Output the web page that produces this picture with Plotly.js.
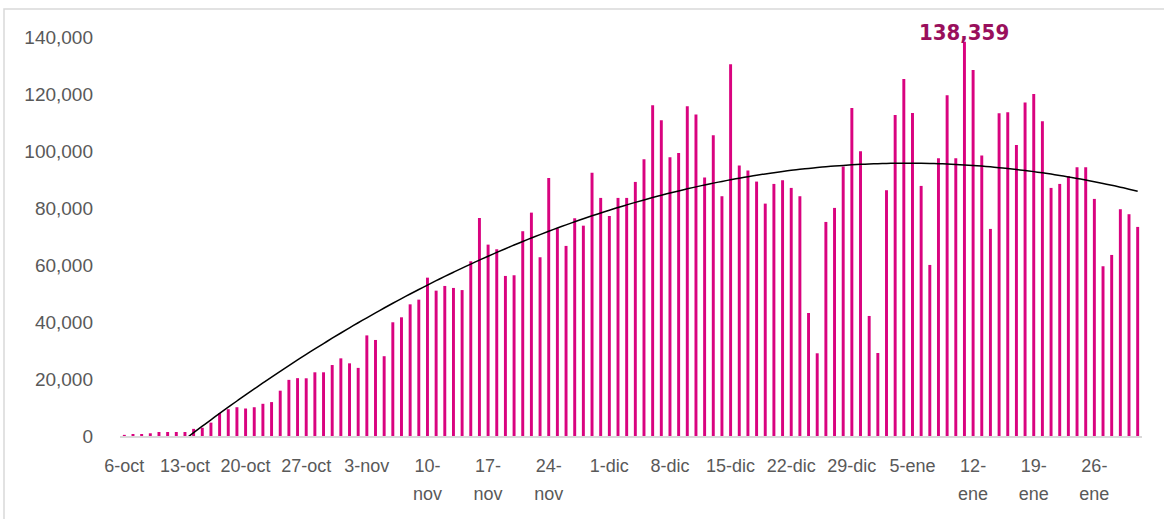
<!DOCTYPE html>
<html>
<head>
<meta charset="utf-8">
<script src="https://cdn.plot.ly/plotly-3.0.1.min.js"></script>
<style>html,body{margin:0;padding:0;background:#fff;}#chart{width:1164px;height:519px;}</style>
</head>
<body>
<div id="chart"></div>
<script>
// Daily categories (6-oct to 31-ene)
const days = [
 "6-oct","7-oct","8-oct","9-oct","10-oct","11-oct","12-oct","13-oct","14-oct","15-oct","16-oct","17-oct","18-oct","19-oct","20-oct","21-oct","22-oct","23-oct","24-oct","25-oct","26-oct","27-oct","28-oct","29-oct","30-oct","31-oct",
 "1-nov","2-nov","3-nov","4-nov","5-nov","6-nov","7-nov","8-nov","9-nov","10-nov","11-nov","12-nov","13-nov","14-nov","15-nov","16-nov","17-nov","18-nov","19-nov","20-nov","21-nov","22-nov","23-nov","24-nov","25-nov","26-nov","27-nov","28-nov","29-nov","30-nov",
 "1-dic","2-dic","3-dic","4-dic","5-dic","6-dic","7-dic","8-dic","9-dic","10-dic","11-dic","12-dic","13-dic","14-dic","15-dic","16-dic","17-dic","18-dic","19-dic","20-dic","21-dic","22-dic","23-dic","24-dic","25-dic","26-dic","27-dic","28-dic","29-dic","30-dic","31-dic",
 "1-ene","2-ene","3-ene","4-ene","5-ene","6-ene","7-ene","8-ene","9-ene","10-ene","11-ene","12-ene","13-ene","14-ene","15-ene","16-ene","17-ene","18-ene","19-ene","20-ene","21-ene","22-ene","23-ene","24-ene","25-ene","26-ene","27-ene","28-ene","29-ene","30-ene","31-ene"
];

// Daily values
const values = [
 400,700,700,950,1400,1400,1400,1400,2500,2900,4700,8000,9400,10100,9650,10100,11300,11900,15900,19700,20300,20250,22350,22350,24900,27250,
 25500,23900,35300,33700,28000,39900,41650,46200,47850,55560,51000,52650,51950,51200,61300,76500,67150,65520,56160,56400,71850,78380,62720,90560,72900,66700,76400,73800,92400,83540,
 77200,83540,83540,89150,97100,116070,110800,97800,99330,115700,112800,90660,105540,84130,130470,94880,93130,89270,81540,88450,89740,87050,84130,43170,29020,75110,80030,94520,115130,99930,42120,
 29130,86240,112670,125300,113370,87750,60020,97470,119580,97470,138359,128400,98390,72660,113270,113620,102140,117000,120040,110450,87050,88450,91260,94300,94300,83190,59560,63530,79570,77820,73360
];

// Axis tick labels
const tickDays  = ["6-oct","13-oct","20-oct","27-oct","3-nov","10-nov","17-nov","24-nov","1-dic","8-dic","15-dic","22-dic","29-dic","5-ene","12-ene","19-ene","26-ene"];
const tickLine1 = ["6-oct","13-oct","20-oct","27-oct","3-nov","10-","17-","24-","1-dic","8-dic","15-dic","22-dic","29-dic","5-ene","12-","19-","26-"];
const tickLine2 = ["","","","","","nov","nov","nov","","","","","","","ene","ene","ene"];
const yTicks = [0,20000,40000,60000,80000,100000,120000,140000];

// Polynomial (order 2) least-squares trend line, as in the source spreadsheet
function quadFit(ys){
  let S=[0,0,0,0,0], T=[0,0,0];
  ys.forEach((y,i)=>{ let p=1; for(let k=0;k<5;k++){ S[k]+=p; if(k<3) T[k]+=p*y; p*=i; } });
  const A=[[S[0],S[1],S[2],T[0]],[S[1],S[2],S[3],T[1]],[S[2],S[3],S[4],T[2]]];
  for(let c=0;c<3;c++){
    for(let r=c+1;r<3;r++){ const f=A[r][c]/A[c][c]; for(let k=c;k<4;k++) A[r][k]-=f*A[c][k]; }
  }
  const x=[0,0,0];
  for(let r=2;r>=0;r--){ let s=A[r][3]; for(let k=r+1;k<3;k++) s-=A[r][k]*x[k]; x[r]=s/A[r][r]; }
  return ys.map((_,i)=>x[0]+x[1]*i+x[2]*i*i);
}
const trend = quadFit(values);

let peakIdx = 0; values.forEach((v,i)=>{ if(v>values[peakIdx]) peakIdx=i; });

const tickFont = {family:"Liberation Sans, Arial, sans-serif", size:18, color:"#595959"};
const yTickFont = {family:"Liberation Sans, Arial, sans-serif", size:19, color:"#595959"};

const data = [
  {type:"bar", x:days, y:values, marker:{color:"#d9037f"}, hoverinfo:"x+y", showlegend:false},
  {type:"scatter", mode:"lines", x:days, y:trend, line:{color:"#000000", width:1.5, shape:"spline"}, hoverinfo:"skip", showlegend:false},
  {type:"scatter", mode:"none", x:days, y:values, xaxis:"x2", hoverinfo:"skip", showlegend:false}
];

const layout = {
  width:1164, height:519,
  margin:{l:120, r:22, t:37, b:83},
  paper_bgcolor:"#ffffff", plot_bgcolor:"#ffffff",
  bargap:0.66,
  showlegend:false,
  xaxis:{
    type:"category", categoryarray:days, range:[-0.5, days.length-0.5],
    tickmode:"array", tickvals:tickDays, ticktext:tickLine1, tickangle:0,
    showgrid:false, zeroline:false, showline:true, linecolor:"#d9d9d9", linewidth:2,
    ticks:"", tickfont:tickFont, ticklabelstandoff:12
  },
  xaxis2:{
    type:"category", categoryarray:days, range:[-0.5, days.length-0.5],
    overlaying:"x", anchor:"y", side:"bottom",
    tickmode:"array", tickvals:tickDays, ticktext:tickLine2, tickangle:0,
    showgrid:false, zeroline:false, showline:false,
    ticks:"", tickfont:tickFont, ticklabelstandoff:45
  },
  yaxis:{
    range:[0,140000], tickmode:"array", tickvals:yTicks, tickformat:",d",
    showgrid:false, zeroline:false, showline:false, ticks:"",
    tickfont:yTickFont, ticklabelstandoff:26
  },
  annotations:[{
    x:days[peakIdx], y:values[peakIdx], xref:"x", yref:"y",
    text:"<b>"+values[peakIdx].toLocaleString("en-US")+"</b>",
    showarrow:false, yanchor:"bottom", yshift:-5,
    font:{family:"Liberation Sans Narrow, Arial Narrow, DejaVu Sans Condensed, Liberation Sans, sans-serif", size:22, color:"#990f5c"}
  }],
  shapes:[{
    type:"rect", xref:"paper", yref:"paper",
    x0:-0.1135, x1:1.03, y0:-0.25, y1:1.0702,
    line:{color:"#d9d9d9", width:1.5}, fillcolor:"rgba(0,0,0,0)", layer:"below"
  }]
};

Plotly.newPlot("chart", data, layout, {staticPlot:true, displayModeBar:false});
</script>
</body>
</html>
